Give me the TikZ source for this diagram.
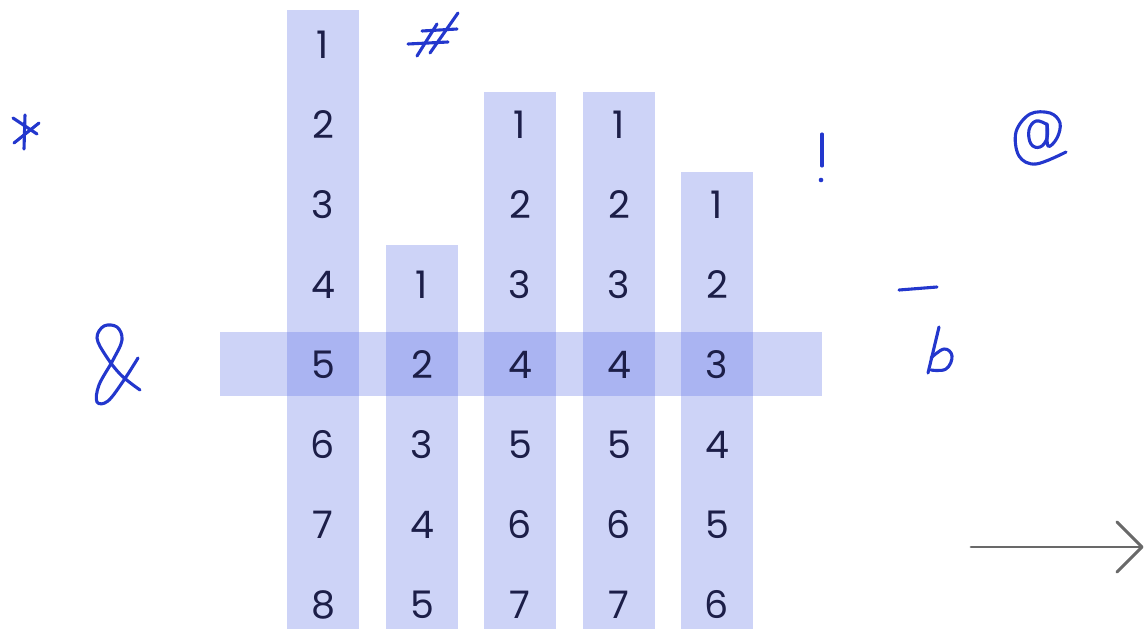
\documentclass[tikz,border=0pt]{standalone}
\usepackage{fontspec}
\setmainfont{Poppins}
\definecolor{bar}{RGB}{77,98,227}
\definecolor{ink}{RGB}{28,30,72}
\definecolor{pen}{RGB}{35,55,205}
\definecolor{arr}{RGB}{105,105,105}
\begin{document}
\begin{tikzpicture}[x=1pt,y=-1pt,
  barfill/.style={fill=bar,fill opacity=0.28},
  num/.style={text=ink,font=\fontsize{38}{40}\selectfont,inner sep=0pt,text height=27pt,text depth=0pt,anchor=center},
  hand/.style={draw=pen,line width=3.1pt,line cap=round,line join=round},
  arrowline/.style={draw=arr,line width=2.9pt,line cap=round,line join=round}]
\path[use as bounding box] (0,0) rectangle (1145,629);
% columns
\fill[barfill] (287,10) rectangle (359,629);
\fill[barfill] (386,245) rectangle (458,629);
\fill[barfill] (484,92) rectangle (556,629);
\fill[barfill] (583,92) rectangle (655,629);
\fill[barfill] (681,172) rectangle (753,629);
% band
\fill[barfill] (220,332) rectangle (822,396);
% numbers
\foreach \r in {1,...,8} \node[num] (a\r) at (323,{45+80*(\r-1)}) {\r};
\foreach \r in {1,...,5} \node[num] (b\r) at (422,{285+80*(\r-1)}) {\r};
\foreach \r in {1,...,7} \node[num] (c\r) at (520,{125+80*(\r-1)}) {\r};
\foreach \r in {1,...,7} \node[num] (d\r) at (619,{125+80*(\r-1)}) {\r};
\foreach \r in {1,...,6} \node[num] (e\r) at (717,{205+80*(\r-1)}) {\r};
% asterisk
\draw[hand] (25,115) -- (24,149);
\draw[hand] (14,143) -- (39,123);
\draw[hand] (13,118) -- (37,134);
% hash
\draw[hand] (417,56) -- (437,24);
\draw[hand] (430,53) -- (458,13);
\draw[hand] (422,31) -- (457,29);
\draw[hand] (408,44) -- (448,42);
% exclamation
\draw[hand] (822,134) -- (822,166);
\fill[pen] (821,180) circle (2.3);
% at sign
\draw[hand] plot[smooth,tension=0.7] coordinates {(1046,124) (1036,121) (1029,130) (1031,144) (1040,147) (1047,138) (1047,124)};
\draw[hand] plot[smooth,tension=0.6] coordinates {(1047,124) (1048,146) (1057,138) (1060,123) (1050,113) (1030,114) (1016,132) (1019,156) (1036,164) (1066,152)};
% dash
\draw[hand] (899,290) -- (937,287);
% b
\draw[hand] (939,327) -- (928,373);
\draw[hand] plot[smooth,tension=0.7] coordinates {(931,358) (944,349) (952,356) (946,369) (931,370)};
% ampersand
\draw[hand] plot[smooth,tension=0.6] coordinates {(140,390) (121,375) (106,356) (97,338) (104,326) (117,327) (122,340) (113,360) (99,385) (97,402) (108,401) (124,380) (138,358)};
% arrow
\coordinate (p) at (971,547);
\coordinate (q) at (1142,547);
\coordinate (h1) at (1117,522);
\coordinate (h2) at (1117,572);
\draw[arrowline] (p) -- (q);
\draw[arrowline] (h1) -- (q) -- (h2);
\end{tikzpicture}
\end{document}
